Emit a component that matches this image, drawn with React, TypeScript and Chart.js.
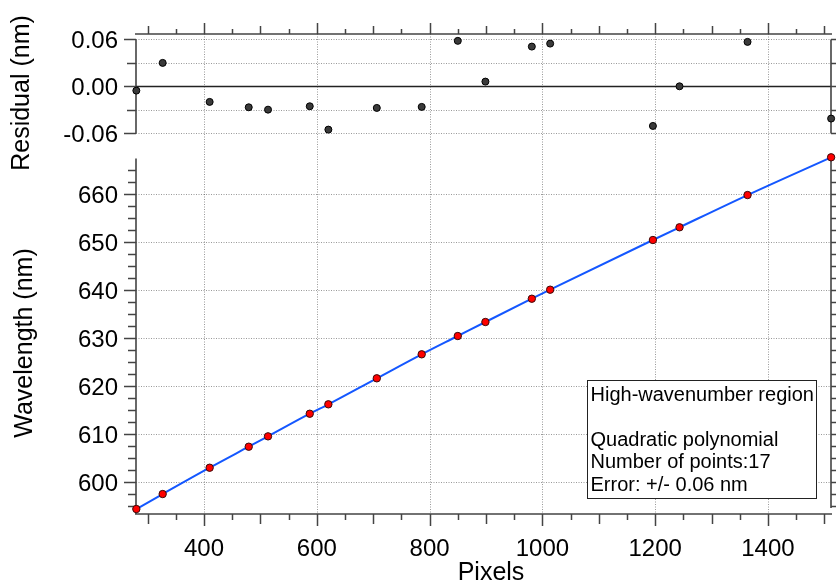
import React, { useEffect, useRef } from "react";
import { Chart, registerables } from "chart.js";

Chart.register(...registerables);

const pixels = [280, 326.7, 410, 479.3, 513.5, 587.5, 620.5, 706.4, 786, 850, 899, 981.3, 1013.8, 1196, 1243.2, 1363.8, 1512];
const wavelengths = [594.44, 597.56, 603.04, 607.42, 609.58, 614.29, 616.25, 621.67, 626.67, 630.48, 633.4, 638.25, 640.13, 650.48, 653.13, 659.85, 667.71];
const residuals = [-0.0055, 0.0299, -0.0199, -0.0268, -0.0298, -0.0255, -0.0553, -0.0276, -0.0263, 0.058, 0.006, 0.0507, 0.0545, -0.0506, 0.0, 0.0567, -0.0412];

const xTickLabels = [400, 600, 800, 1000, 1200, 1400];
const waveTickLabels = [600, 610, 620, 630, 640, 650, 660];
const resTickLabels = [0.06, 0.0, -0.06];
const resMinorTicks = [0.03, -0.03];
const legendLines = ["High-wavenumber region", "", "Quadratic polynomial", "Number of points:17", "Error: +/- 0.06 nm"];

const X_MIN = 279.4;
const X_MAX = 1511.8;
const RES_MAX = 0.06677;
const RES_MIN = -0.546;
const WAVE_MIN = 593.4;
const WAVE_MAX = 693.4;
const WAVE_TOP = 667.56;

const FONT = '"Liberation Sans", Arial, sans-serif';

const axesPlugin = {
  id: "customAxes",
  beforeDatasetsDraw(chart: any) {
    const ctx = chart.ctx as CanvasRenderingContext2D;
    const xs = chart.scales.x;
    const yr = chart.scales.yRes;
    const yw = chart.scales.yWave;
    const area = chart.chartArea;
    const L = area.left;
    const R = area.right;
    const T = area.top;
    const B = area.bottom;
    const px = (v: number) => Math.round(xs.getPixelForValue(v)) + 0.5;
    const pyr = (v: number) => Math.round(yr.getPixelForValue(v)) + 0.5;
    const pyw = (v: number) => Math.round(yw.getPixelForValue(v)) + 0.5;

    ctx.save();
    // grid lines (dotted)
    ctx.strokeStyle = "rgba(0,0,0,0.4)";
    ctx.lineWidth = 1;
    ctx.setLineDash([1, 1.5]);
    ctx.beginPath();
    for (const v of xTickLabels) {
      const x = px(v);
      ctx.moveTo(x, T);
      ctx.lineTo(x, B);
    }
    for (const v of [0.06, 0.03, -0.03, -0.06]) {
      const y = pyr(v);
      ctx.moveTo(L, y);
      ctx.lineTo(R, y);
    }
    for (const v of waveTickLabels) {
      const y = pyw(v);
      ctx.moveTo(L, y);
      ctx.lineTo(R, y);
    }
    ctx.stroke();
    ctx.setLineDash([]);

    // zero line
    ctx.strokeStyle = "#222";
    ctx.lineWidth = 1.3;
    ctx.beginPath();
    ctx.moveTo(L, pyr(0));
    ctx.lineTo(R, pyr(0));
    ctx.stroke();

    // axis lines
    ctx.strokeStyle = "#444";
    ctx.lineWidth = 1.6;
    ctx.beginPath();
    ctx.moveTo(L - 1, T);
    ctx.lineTo(R + 1, T);
    ctx.moveTo(L - 1, B);
    ctx.lineTo(R + 1, B);
    ctx.moveTo(L, pyr(0.06));
    ctx.lineTo(L, pyr(-0.06));
    ctx.moveTo(R, pyr(0.06));
    ctx.lineTo(R, pyr(-0.06));
    ctx.moveTo(L, pyw(WAVE_TOP));
    ctx.lineTo(L, B);
    ctx.moveTo(R, pyw(WAVE_TOP));
    ctx.lineTo(R, B - 6);
    ctx.stroke();

    // x ticks
    ctx.lineWidth = 1.5;
    ctx.beginPath();
    for (let v = 300; v <= 1500; v += 50) {
      const x = px(v);
      const major = v % 200 === 0;
      const medium = !major && v % 100 === 0;
      const lb = major ? 12 : medium ? 10 : 6;
      const lt = major ? 11 : medium ? 8 : 5;
      ctx.moveTo(x, B);
      ctx.lineTo(x, B + lb);
      ctx.moveTo(x, T);
      ctx.lineTo(x, T - lt);
    }
    for (const v of resTickLabels) {
      const y = pyr(v);
      ctx.moveTo(L, y);
      ctx.lineTo(L - 12, y);
      ctx.moveTo(R, y);
      ctx.lineTo(R + 12, y);
    }
    for (const v of resMinorTicks) {
      const y = pyr(v);
      ctx.moveTo(L, y);
      ctx.lineTo(L - 9, y);
      ctx.moveTo(R, y);
      ctx.lineTo(R + 9, y);
    }
    for (let i = 0; i <= 28; i++) {
      const v = 595 + i * 2.5;
      const y = pyw(v);
      const major = i % 4 === 2;
      const len = major ? 12 : 8;
      ctx.moveTo(L, y);
      ctx.lineTo(L - len, y);
      ctx.moveTo(R, y);
      ctx.lineTo(R + len, y);
    }
    ctx.stroke();

    // tick labels
    ctx.fillStyle = "#000";
    ctx.font = `24px ${FONT}`;
    ctx.textBaseline = "alphabetic";
    ctx.textAlign = "center";
    for (const v of xTickLabels) {
      ctx.fillText(String(v), xs.getPixelForValue(v), B + 42);
    }
    ctx.textAlign = "right";
    for (const v of resTickLabels) {
      ctx.fillText(v.toFixed(2), L - 18, yr.getPixelForValue(v) + 8.8);
    }
    for (const v of waveTickLabels) {
      ctx.fillText(String(v), L - 18, yw.getPixelForValue(v) + 8.8);
    }

    // axis titles
    ctx.font = `25px ${FONT}`;
    ctx.textAlign = "center";
    ctx.fillText("Pixels", 491, 580);
    ctx.save();
    ctx.translate(29, 93);
    ctx.rotate(-Math.PI / 2);
    ctx.fillText("Residual (nm)", 0, 0);
    ctx.restore();
    ctx.save();
    ctx.translate(32, 343);
    ctx.rotate(-Math.PI / 2);
    ctx.fillText("Wavelength (nm)", 0, 0);
    ctx.restore();

    ctx.restore();
  },
  afterDatasetsDraw(chart: any) {
    const ctx = chart.ctx as CanvasRenderingContext2D;
    ctx.save();
    ctx.fillStyle = "#fff";
    ctx.fillRect(587.5, 380.5, 229, 118);
    ctx.strokeStyle = "#222";
    ctx.lineWidth = 1;
    ctx.strokeRect(587.5, 380.5, 229, 118);
    ctx.fillStyle = "#000";
    ctx.font = `20px ${FONT}`;
    ctx.textAlign = "left";
    ctx.textBaseline = "alphabetic";
    legendLines.forEach((t, i) => {
      if (t) ctx.fillText(t, 590.5, 401 + i * 22.4);
    });
    ctx.restore();
  },
};

export default function App() {
  const ref = useRef<HTMLCanvasElement>(null);
  useEffect(() => {
    if (!ref.current) return;
    const chart = new Chart(ref.current, {
      type: "scatter",
      data: {
        datasets: [
          {
            label: "Fit",
            data: pixels.map((x, i) => ({ x, y: wavelengths[i] })),
            yAxisID: "yWave",
            showLine: true,
            borderColor: "#1457ff",
            borderWidth: 2,
            pointRadius: 0,
            cubicInterpolationMode: "monotone",
            clip: false,
            order: 2,
          } as any,
          {
            label: "Wavelength",
            data: pixels.map((x, i) => ({ x, y: wavelengths[i] })),
            yAxisID: "yWave",
            backgroundColor: "#ff0000",
            borderColor: "#3a0a0a",
            borderWidth: 1,
            pointRadius: 3.7,
            clip: false,
            order: 1,
          } as any,
          {
            label: "Residual",
            data: pixels.map((x, i) => ({ x, y: residuals[i] })),
            yAxisID: "yRes",
            backgroundColor: "#3a3a3a",
            borderColor: "#000",
            borderWidth: 1,
            pointRadius: 3.5,
            clip: false,
            order: 1,
          } as any,
        ],
      },
      options: {
        animation: false,
        responsive: false,
        devicePixelRatio: 1,
        layout: { padding: { left: 136, top: 34, right: 4, bottom: 70 } },
        plugins: { legend: { display: false }, tooltip: { enabled: false } },
        events: [],
        scales: {
          x: { type: "linear", display: false, min: X_MIN, max: X_MAX },
          yRes: { type: "linear", display: false, min: RES_MIN, max: RES_MAX },
          yWave: { type: "linear", display: false, min: WAVE_MIN, max: WAVE_MAX },
        },
      },
      plugins: [axesPlugin],
    });
    return () => chart.destroy();
  }, []);
  return (
    <div style={{ position: "fixed", left: 0, top: 0, width: 836, height: 584, background: "#fff" }}>
      <canvas ref={ref} width={836} height={584} style={{ display: "block" }} />
    </div>
  );
}
